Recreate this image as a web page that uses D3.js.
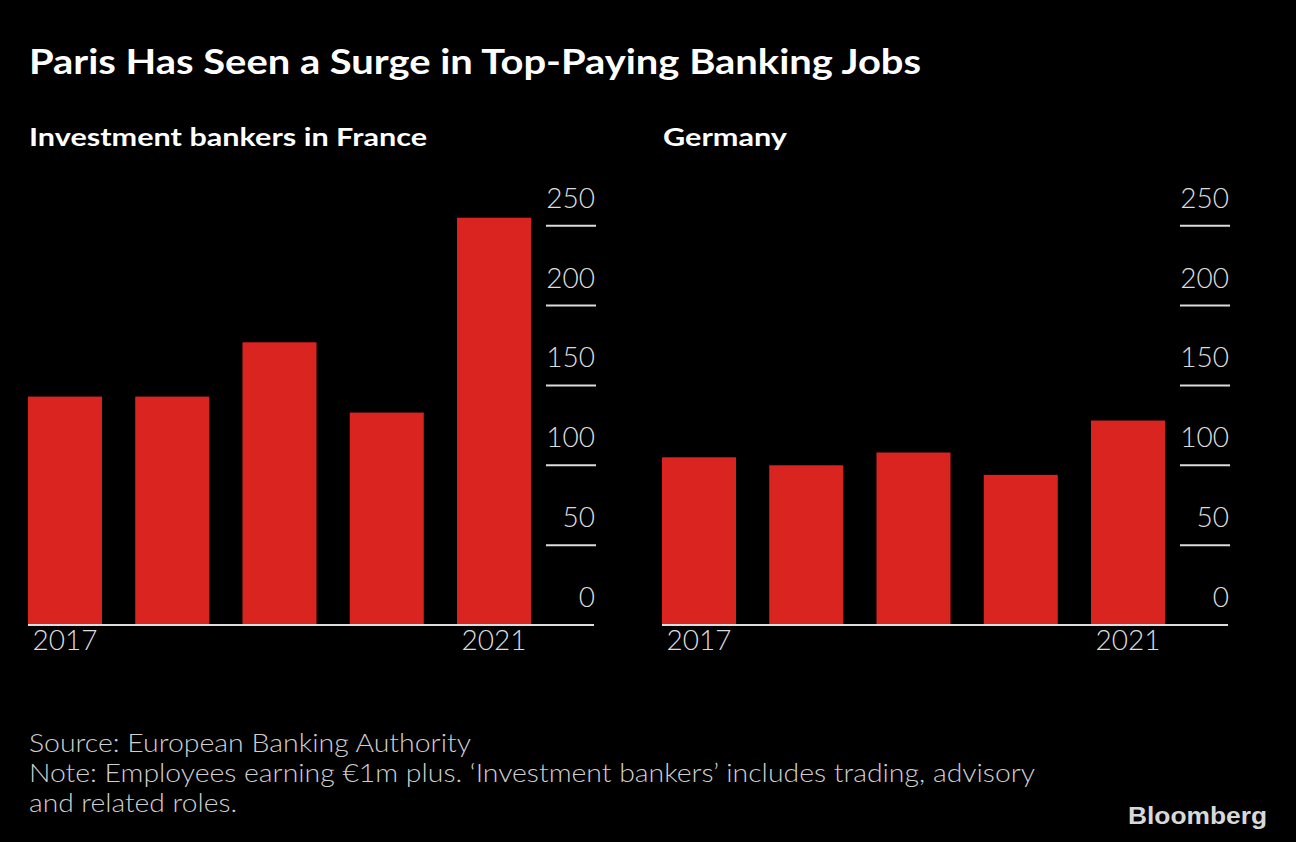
<!DOCTYPE html>
<html>
<head>
<meta charset="utf-8">
<script src="https://cdn.jsdelivr.net/npm/d3@7"></script>
<style>
  html, body { margin: 0; padding: 0; background: #000; }
  svg { display: block; }
</style>
</head>
<body>
<svg id="chart" width="1296" height="842"></svg>
<script>
// ---- data ----
const years = ["2017", "2018", "2019", "2020", "2021"];
const franceValues = [143, 143, 177, 133, 255];
const germanyValues = [105, 100, 108, 94, 128];
const yTicks = [0, 50, 100, 150, 200, 250];
const xTickLabels = ["2017", "2021"];
const panelTitles = ["Investment bankers in France", "Germany"];
const titleText = "Paris Has Seen a Surge in Top-Paying Banking Jobs";
const footerLines = [
  "Source: European Banking Authority",
  "Note: Employees earning €1m plus. \u2018Investment bankers\u2019 includes trading, advisory",
  "and related roles."
];

// ---- drawing ----
const svg = d3.select("#chart");
svg.append("rect").attr("width", 1296).attr("height", 842).attr("fill", "#000");

const boldFont = "Lato, 'Open Sans', sans-serif";
const lightFont = "Lato, 'Open Sans', sans-serif";
const red = "#da2420";
const gray = "#dcdcdc";

svg.append("text")
  .attr("x", 29).attr("y", 74)
  .attr("fill", "#fff")
  .attr("font-family", boldFont).attr("font-weight", 700)
  .attr("font-size", 34)
  .attr("textLength", 892).attr("lengthAdjust", "spacingAndGlyphs")
  .text(titleText);

const panels = [
  { title: panelTitles[0], values: franceValues, x0: 28, x1: 531, axisEnd: 594, tickX0: 546, tickX1: 596, labelX: 595, titleLen: 398 },
  { title: panelTitles[1], values: germanyValues, x0: 662, x1: 1165, axisEnd: 1228, tickX0: 1180, tickX1: 1230, labelX: 1229, titleLen: 124 }
];

const y = d3.scaleLinear().domain([0, 250]).range([625, 225.7]);

panels.forEach(p => {
  const g = svg.append("g");
  g.append("text")
    .attr("x", p.x0 + 1).attr("y", 146)
    .attr("fill", "#fff")
    .attr("font-family", boldFont).attr("font-weight", 700)
    .attr("font-size", 25)
    .attr("textLength", p.titleLen).attr("lengthAdjust", "spacingAndGlyphs")
    .text(p.title);

  const x = d3.scaleBand().domain(years).range([p.x0, p.x1]).paddingInner(0.31).paddingOuter(0);

  // tick lines and labels
  yTicks.forEach(t => {
    if (t > 0) {
      g.append("line")
        .attr("x1", p.tickX0).attr("x2", p.tickX1)
        .attr("y1", y(t)).attr("y2", y(t))
        .attr("stroke", gray).attr("stroke-width", 2);
    }
    g.append("text")
      .attr("x", p.labelX).attr("y", y(t) - 18)
      .attr("text-anchor", "end")
      .attr("fill", gray)
      .attr("font-family", lightFont).attr("font-weight", 300)
      .attr("font-size", 28)
      .text(t);
  });

  // bars
  g.selectAll("rect.bar").data(p.values).join("rect")
    .attr("class", "bar")
    .attr("x", (d, i) => x(years[i]))
    .attr("width", x.bandwidth())
    .attr("y", d => y(d))
    .attr("height", d => y(0) - y(d))
    .attr("fill", red);

  // baseline
  g.append("line")
    .attr("x1", p.x0).attr("x2", p.axisEnd)
    .attr("y1", y(0)).attr("y2", y(0))
    .attr("stroke", gray).attr("stroke-width", 2);

  // x labels
  xTickLabels.forEach(lbl => {
    g.append("text")
      .attr("x", x(lbl) + x.bandwidth() / 2).attr("y", 650)
      .attr("text-anchor", "middle")
      .attr("fill", gray)
      .attr("font-family", lightFont).attr("font-weight", 300)
      .attr("font-size", 28)
      .text(lbl);
  });
});

// footer
const footerLens = [442, 1006, 208];
footerLines.forEach((line, i) => {
  svg.append("text")
    .attr("x", 29).attr("y", 752 + i * 30)
    .attr("fill", "#cfcfcf")
    .attr("font-family", lightFont).attr("font-weight", 300)
    .attr("font-size", 25)
    .attr("textLength", footerLens[i]).attr("lengthAdjust", "spacingAndGlyphs")
    .text(line);
});

svg.append("text")
  .attr("x", 1128).attr("y", 824)
  .attr("fill", "#d8d8d8")
  .attr("font-family", "'Liberation Sans', Arial, sans-serif").attr("font-weight", 700)
  .attr("font-size", 23)
  .attr("textLength", 139).attr("lengthAdjust", "spacingAndGlyphs")
  .text("Bloomberg");
</script>
</body>
</html>
